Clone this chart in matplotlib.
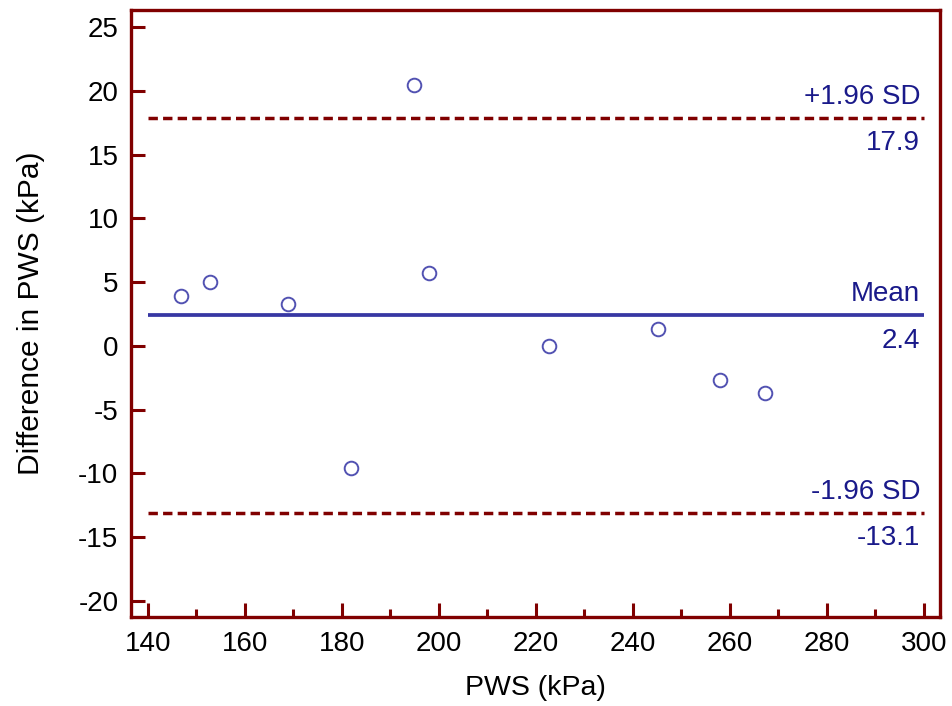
import numpy as np
import matplotlib
matplotlib.use("Agg")
from matplotlib import pyplot as plt
from matplotlib.ticker import MultipleLocator

# Bland-Altman data
pws_mean = [146.8, 152.8, 168.9, 181.9, 194.8, 197.9, 222.7, 245.2, 257.9, 267.2]
pws_diff = [3.9, 5.0, 3.3, -9.6, 20.5, 5.75, 0.0, 1.3, -2.7, -3.7]

mean_diff = 2.4
upper_loa = 17.9
lower_loa = -13.1
line_x = [140, 300]

maroon = "#800000"
navy = "#1a1a8a"
blue = "#3737a3"
marker_col = "#5252b2"

plt.rcParams['font.family'] = ['Liberation Sans', 'DejaVu Sans']
plt.rcParams['axes.unicode_minus'] = False

fig = plt.figure(figsize=(9.52, 7.06), dpi=100)
ax = fig.add_axes([0.1376, 0.1261, 0.8498, 0.8597])

ax.plot(line_x, [mean_diff, mean_diff], color=blue, lw=2.7, solid_capstyle='butt')
ax.plot(line_x, [upper_loa, upper_loa], color=maroon, lw=2.5, dashes=(2.7, 1.5))
ax.plot(line_x, [lower_loa, lower_loa], color=maroon, lw=2.5, dashes=(2.7, 1.5))

ax.plot(pws_mean, pws_diff, 'o', ms=9.8, mfc='none', mec=marker_col, mew=1.4)

# labels next to the lines
fs = 20
for yv, top, bottom in [(upper_loa, "+1.96 SD", "17.9"),
                        (mean_diff, "Mean", "2.4"),
                        (lower_loa, "-1.96 SD", "-13.1")]:
    ax.annotate(top, (299.2, yv), xytext=(0, 10), textcoords='offset points',
                ha='right', va='baseline', color=navy, fontsize=fs)
    ax.annotate(bottom, (299.2, yv), xytext=(0, -9), textcoords='offset points',
                ha='right', va='top', color=navy, fontsize=fs)

ax.set_xlim(136.5, 303.3)
ax.set_ylim(-21.26, 26.35)
ax.xaxis.set_major_locator(MultipleLocator(20))
ax.xaxis.set_minor_locator(MultipleLocator(10))
ax.yaxis.set_major_locator(MultipleLocator(5))
ax.set_xticks(np.arange(140, 301, 20))
ax.set_yticks(np.arange(-20, 26, 5))

for s in ax.spines.values():
    s.set_color(maroon)
    s.set_linewidth(2.4)

ax.tick_params(axis='both', which='major', direction='in', length=10, width=2.2,
               color=maroon, labelsize=fs, pad=9)
ax.tick_params(axis='x', which='minor', direction='in', length=5.8, width=2.2,
               color=maroon)
ax.tick_params(axis='y', which='minor', left=False)
ax.tick_params(axis='x', pad=10)

ax.set_xlabel("PWS (kPa)", fontsize=20.5, labelpad=13)
ax.set_ylabel("Difference in PWS (kPa)", fontsize=21.5, labelpad=24)

fig.savefig("out.png", dpi=100)
